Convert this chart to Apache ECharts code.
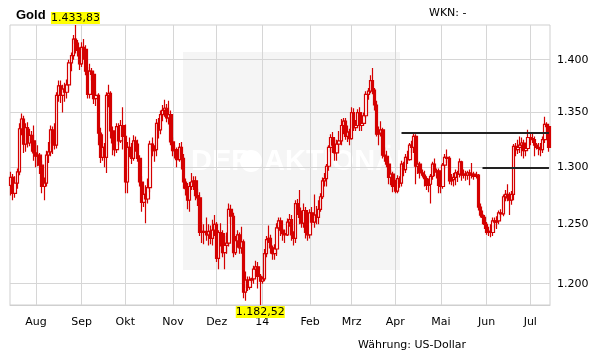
<!DOCTYPE html>
<html><head><meta charset="utf-8">
<script src="https://cdn.jsdelivr.net/npm/echarts@6/dist/echarts.min.js"></script>
<style>html,body{margin:0;padding:0;background:#fff}#c{width:611px;height:364px}</style>
</head><body><div id="c"></div>
<script>
// Daily candles [open, close, low, high] in USD, grouped by month (trading weekdays)
const jul13 = [[1284,1291,1275,1296],[1291,1277,1271,1294],[1277,1286,1273,1292],[1286,1296,1281,1299],[1296,1335,1293,1340],[1335,1344,1329,1349],[1344,1321,1313,1347],[1321,1336,1314,1340],[1336,1322,1318,1341],[1322,1329,1319,1335],[1329,1324,1314,1333],[1324,1313,1306,1338]];
const aug13 = [[1313,1310,1300,1322],[1310,1311,1301,1320],[1311,1302,1294,1313],[1302,1283,1277,1306],[1283,1286,1271,1291],[1286,1311,1283,1315],[1311,1314,1304,1323],[1314,1334,1310,1338],[1334,1322,1312,1337],[1322,1320,1316,1340],[1320,1366,1317,1369],[1366,1375,1360,1380],[1375,1366,1359,1380],[1366,1372,1350,1376],[1372,1369,1360,1378],[1369,1376,1363,1381],[1376,1397,1370,1400],[1397,1404,1389,1407],[1404,1420,1400,1424],[1420,1416,1406,1433.83],[1416,1409,1403,1419],[1409,1396,1390,1412]];
const sep13 = [[1396,1412,1393,1417],[1412,1410,1400,1420],[1410,1389,1385,1414],[1389,1367,1363,1393],[1367,1389,1363,1396],[1389,1386,1380,1392],[1386,1363,1358,1389],[1363,1366,1356,1370],[1366,1331,1320,1368],[1331,1309,1304,1336],[1309,1318,1306,1330],[1318,1309,1300,1322],[1309,1366,1295,1369],[1366,1368,1355,1376],[1368,1333,1326,1370],[1333,1322,1311,1337],[1322,1316,1310,1326],[1316,1337,1313,1340],[1337,1324,1320,1340],[1324,1338,1322,1343],[1338,1328,1316,1355]];
const oct13 = [[1328,1287,1277,1339],[1287,1318,1277,1323],[1318,1316,1309,1327],[1316,1308,1303,1322],[1308,1324,1306,1329],[1324,1321,1314,1328],[1321,1308,1305,1325],[1308,1287,1283,1311],[1287,1269,1261,1292],[1269,1276,1265,1283],[1276,1272,1251,1284],[1272,1282,1268,1290],[1282,1321,1278,1324],[1321,1315,1310,1327],[1315,1316,1305,1320],[1316,1340,1310,1344],[1340,1334,1326,1345],[1334,1348,1330,1352],[1348,1352,1342,1357],[1352,1354,1346,1362],[1354,1345,1341,1358],[1345,1348,1339,1361],[1348,1323,1320,1352]];
const nov13 = [[1323,1315,1310,1327],[1315,1316,1308,1320],[1316,1307,1300,1318],[1307,1318,1305,1322],[1318,1308,1298,1323],[1308,1287,1281,1312],[1287,1281,1275,1290],[1281,1271,1263,1286],[1271,1283,1261,1287],[1283,1287,1280,1295],[1287,1288,1280,1292],[1288,1275,1271,1292],[1275,1273,1266,1281],[1273,1243,1240,1278],[1243,1244,1234,1252],[1244,1243,1233,1250],[1243,1241,1236,1256],[1241,1244,1232,1250],[1244,1238,1233,1249],[1238,1245,1232,1254],[1245,1250,1240,1258]];
const dec13 = [[1250,1221,1218,1252],[1221,1243,1212,1245],[1243,1242,1231,1251],[1242,1226,1222,1245],[1226,1232,1212,1240],[1232,1234,1225,1243],[1234,1263,1231,1268],[1263,1257,1250,1267],[1257,1226,1222,1260],[1226,1236,1224,1240],[1236,1241,1230,1245],[1241,1230,1225,1243],[1230,1235,1225,1248],[1235,1193,1188,1237],[1193,1203,1186,1210],[1203,1197,1194,1206],[1197,1203,1195,1206],[1203,1204,1201,1205],[1204,1212,1200,1215],[1212,1214,1206,1219],[1214,1206,1196,1218],[1206,1202,1182.52,1208]];
const jan14 = [[1202,1204,1200,1206],[1204,1225,1202,1229],[1225,1237,1222,1240],[1237,1238,1234,1249],[1238,1230,1225,1241],[1230,1225,1220,1232],[1225,1229,1220,1233],[1229,1247,1223,1251],[1247,1253,1244,1256],[1253,1245,1240,1256],[1245,1242,1236,1247],[1242,1241,1234,1245],[1241,1252,1240,1255],[1252,1254,1248,1259],[1254,1241,1236,1258],[1241,1238,1232,1244],[1238,1268,1234,1271],[1268,1264,1258,1272],[1264,1256,1250,1280],[1256,1251,1247,1262],[1251,1262,1247,1268],[1262,1243,1238,1265],[1243,1241,1236,1250]];
const feb14 = [[1241,1260,1238,1263],[1260,1252,1249,1265],[1252,1258,1247,1276],[1258,1256,1250,1266],[1256,1263,1250,1271],[1263,1274,1261,1277],[1274,1288,1272,1291],[1288,1290,1283,1295],[1290,1301,1283,1303],[1301,1318,1297,1320],[1318,1327,1314,1330],[1327,1320,1313,1332],[1320,1313,1306,1326],[1313,1321,1306,1325],[1321,1324,1313,1333],[1324,1338,1320,1344],[1338,1342,1330,1345],[1342,1328,1325,1345],[1328,1332,1323,1338],[1332,1326,1320,1335]];
const mar14 = [[1326,1350,1325,1355],[1350,1336,1333,1354],[1336,1338,1333,1343],[1338,1350,1336,1353],[1350,1338,1333,1355],[1338,1340,1333,1344],[1340,1347,1338,1350],[1347,1367,1345,1370],[1367,1370,1362,1373],[1370,1380,1368,1385],[1380,1371,1367,1392],[1371,1357,1352,1373],[1357,1330,1328,1361],[1330,1331,1320,1337],[1331,1334,1328,1342],[1334,1311,1308,1336],[1311,1310,1305,1318],[1310,1303,1300,1315],[1303,1291,1285,1306],[1291,1294,1284,1298],[1294,1283,1278,1296]];
const apr14 = [[1283,1279,1277,1289],[1279,1290,1277,1293],[1290,1286,1282,1292],[1286,1303,1283,1306],[1303,1298,1292,1305],[1298,1309,1295,1312],[1309,1307,1303,1315],[1307,1320,1306,1322],[1320,1318,1313,1324],[1318,1328,1313,1331],[1328,1301,1285,1330],[1301,1303,1294,1306],[1303,1295,1290,1305],[1295,1293,1291,1298],[1293,1290,1283,1297],[1290,1284,1280,1292],[1284,1285,1278,1290],[1285,1292,1268,1294],[1292,1303,1289,1305],[1303,1296,1292,1308],[1296,1297,1290,1299],[1297,1284,1277,1299]];
const may14 = [[1284,1283,1277,1288],[1283,1302,1281,1304],[1302,1309,1298,1312],[1309,1308,1304,1316],[1308,1288,1285,1310],[1288,1289,1284,1294],[1289,1291,1283,1295],[1291,1295,1284,1298],[1295,1294,1287,1297],[1294,1305,1291,1308],[1305,1293,1288,1306],[1293,1294,1290,1298],[1294,1293,1288,1297],[1293,1295,1289,1297],[1295,1293,1284,1298],[1293,1294,1290,1304],[1294,1292,1289,1296],[1292,1293,1290,1296],[1293,1265,1262,1294],[1265,1258,1256,1268],[1258,1256,1250,1262],[1256,1250,1246,1258]];
const jun14 = [[1250,1243,1241,1252],[1243,1244,1240,1248],[1244,1243,1239,1250],[1243,1253,1240,1256],[1253,1252,1247,1256],[1252,1253,1246,1257],[1253,1260,1250,1262],[1260,1259,1256,1263],[1259,1274,1257,1276],[1274,1276,1270,1280],[1276,1273,1270,1285],[1273,1271,1258,1278],[1271,1276,1267,1279],[1276,1319,1271,1321],[1319,1316,1310,1322],[1316,1318,1312,1325],[1318,1320,1313,1328],[1320,1322,1310,1327],[1322,1315,1308,1325],[1315,1317,1310,1320],[1317,1327,1315,1334]];
const jul14 = [[1327,1326,1320,1332],[1326,1325,1322,1331],[1325,1320,1310,1328],[1320,1318,1316,1322],[1318,1317,1311,1322],[1317,1316,1310,1322],[1316,1325,1313,1328],[1325,1339,1322,1346],[1339,1337,1331,1341],[1337,1318,1314,1339]];

const monthLabels = ['14','Feb','Mrz','Apr','Mai','Jun','Jul','Aug','Sep','Okt','Nov','Dez'];
const yTicks = [1200, 1250, 1300, 1350, 1400];
const levels = [{value: 1331, from: '2014-04-04'}, {value: 1300, from: '2014-05-29'}];

// Trading weekdays 2013-07-16 .. 2014-07-14
const dates = [];
for (let t = Date.UTC(2013, 6, 16); t <= Date.UTC(2014, 6, 14); t += 86400000) {
  const d = new Date(t); const wd = d.getUTCDay();
  if (wd > 0 && wd < 6) dates.push(d.toISOString().slice(0, 10));
}
const candles = [].concat(jul13, aug13, sep13, oct13, nov13, dec13, jan14, feb14, mar14, apr14, may14, jun14, jul14);

const RED = '#d40000';
function de(v) {
  const s = v.toFixed(2).split('.');
  return s[0].replace(/\B(?=(\d{3})+(?!\d))/g, '.') + ',' + s[1];
}
const isMonthStart = i => i > 0 && dates[i].slice(5, 7) !== dates[i - 1].slice(5, 7);
let hiIdx = 0, loIdx = 0;
candles.forEach((c, i) => { if (c[3] > candles[hiIdx][3]) hiIdx = i; if (c[2] < candles[loIdx][2]) loIdx = i; });
const hiVal = candles[hiIdx][3], loVal = candles[loIdx][2];

const chart = echarts.init(document.getElementById('c'));
chart.setOption({
  animation: false,
  backgroundColor: '#fff',
  title: {text: 'Gold', left: 11, top: 4, textStyle: {fontFamily: 'Liberation Sans', fontSize: 13, fontWeight: 'bold', color: '#000'}},
  graphic: [
    {type: 'rect', z: -1, silent: true, shape: {x: 183, y: 52, width: 217, height: 218}, style: {fill: '#f5f5f5'}},
    {type: 'text', z: -1, silent: true, x: 191, y: 147, style: {text: 'DER', font: 'bold 29px Liberation Sans', fill: '#ffffff'}},
    {type: 'circle', z: -1, silent: true, shape: {cx: 251, cy: 161, r: 11}, style: {fill: '#ffffff'}},
    {type: 'text', z: -1, silent: true, x: 264, y: 147, style: {text: 'AKTIONÄR', font: 'bold 29px Liberation Sans', fill: '#ffffff'}},
    {type: 'text', silent: true, x: 429, y: 8, style: {text: 'WKN: -', font: '11px DejaVu Sans', fill: '#000'}},
    {type: 'text', silent: true, x: 358, y: 340, style: {text: 'Währung: US-Dollar', font: '11px DejaVu Sans', fill: '#000'}}
  ],
  grid: {left: 10, top: 25, right: 61, bottom: 59, show: true, borderColor: '#cfcfcf', borderWidth: 1},
  xAxis: {
    type: 'category', data: dates, boundaryGap: true,
    axisLine: {show: true, lineStyle: {color: '#cfcfcf'}},
    axisTick: {show: false},
    axisLabel: {interval: i => isMonthStart(i), margin: 12, color: '#000', fontFamily: 'DejaVu Sans', fontSize: 11,
      formatter: v => { const m = +v.slice(5, 7); return m === 1 ? v.slice(2, 4) : monthLabels[m - 1]; }},
    splitLine: {show: true, interval: i => isMonthStart(i), alignWithLabel: true, lineStyle: {color: '#d6d6d6', width: 1}}
  },
  yAxis: {
    type: 'log', logBase: 10, min: loVal, max: hiVal, position: 'right',
    axisLine: {show: false},
    axisTick: {show: false, customValues: yTicks},
    axisLabel: {customValues: yTicks, margin: 7, color: '#000', fontFamily: 'DejaVu Sans', fontSize: 11, formatter: v => (v / 1000).toFixed(3)},
    splitLine: {show: true, lineStyle: {color: '#d6d6d6', width: 1}}
  },
  series: [{
    type: 'candlestick', data: candles, barWidth: 3,
    itemStyle: {color: '#ffffff', color0: RED, borderColor: RED, borderColor0: RED, borderWidth: 1.2},
    markPoint: {
      symbol: 'rect', symbolSize: [49, 12], silent: true,
      itemStyle: {color: '#ffff00'},
      label: {show: true, position: 'inside', color: '#000', fontFamily: 'DejaVu Sans', fontSize: 11, formatter: p => de(p.value)},
      data: [
        {coord: [dates[hiIdx], hiVal * 0.99995], value: hiVal, symbolOffset: [0, -7]},
        {coord: [dates[loIdx], loVal * 1.00005], value: loVal, symbolOffset: [0, 7]}
      ]
    },
    markLine: {
      silent: true, symbol: ['none', 'none'], label: {show: false},
      lineStyle: {color: '#222', width: 2, type: 'solid'},
      data: levels.map(l => [{coord: [l.from, l.value]}, {coord: [dates[dates.length - 1], l.value]}])
    }
  }]
});
</script></body></html>
